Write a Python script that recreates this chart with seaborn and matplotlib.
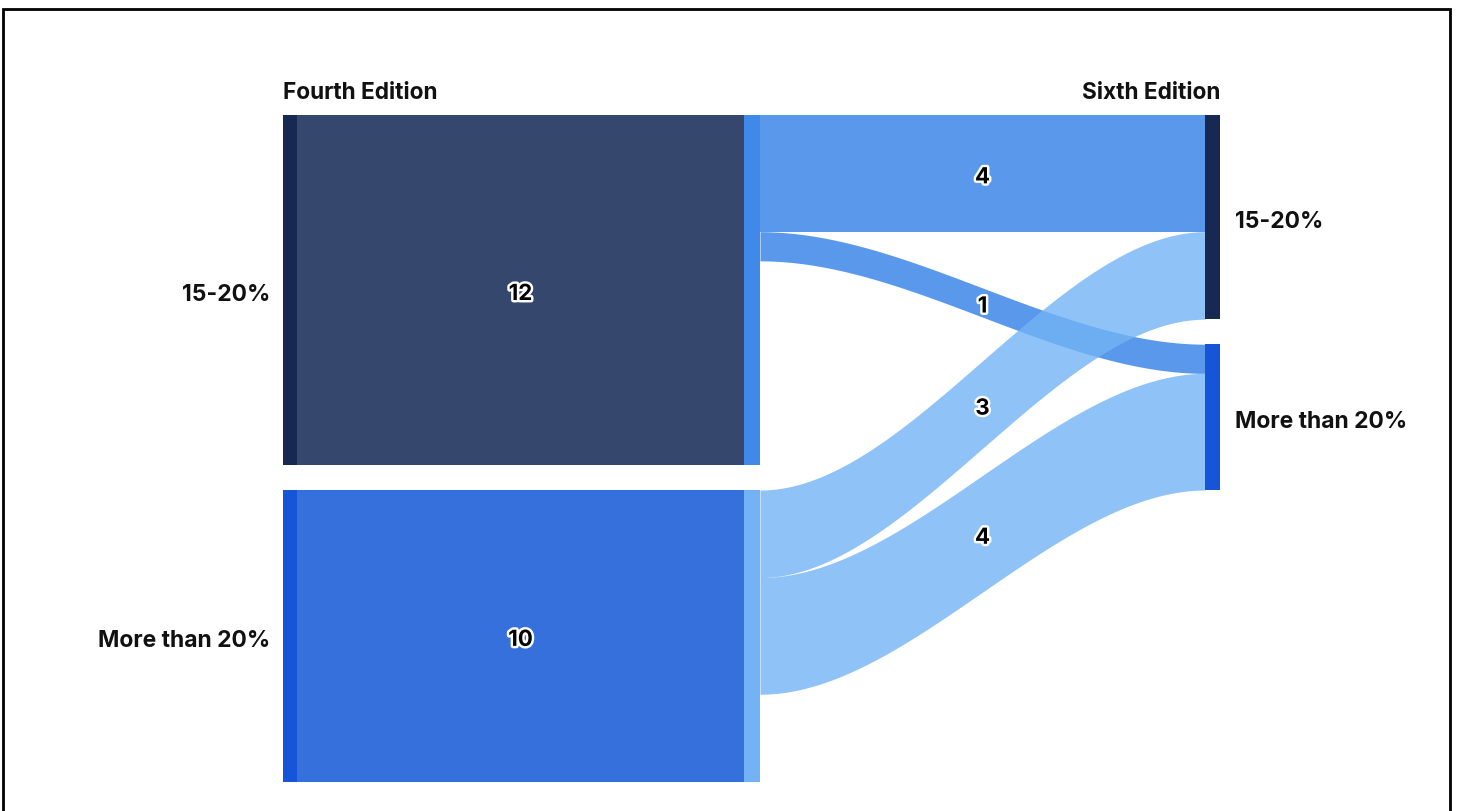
import numpy as np
import matplotlib
matplotlib.use("Agg")
import matplotlib.pyplot as plt
import matplotlib.patheffects as pe
from matplotlib.patches import Rectangle
import seaborn as sns

# ---- data ----
left_nodes = ["15-20%", "More than 20%"]
left_values = [12, 10]
right_nodes = ["15-20%", "More than 20%"]
flow_source = [0, 0, 1, 1]
flow_target = [0, 1, 0, 1]
flow_values = [4, 1, 3, 4]
left_title = "Fourth Edition"
right_title = "Sixth Edition"

# ---- style ----
sns.set_theme(style="white")
plt.rcParams['font.family'] = ['Inter', 'DejaVu Sans']

node_colors = ["#172852", "#1655d8"]
block_colors = ["#36476d", "#3670dd"]
mid_colors = ["#4189e8", "#73b3f5"]
flow_colors = ["#4189e8", "#73b3f5"]
flow_alpha = [0.87, 0.8]

W, H = 1457, 812
fig = plt.figure(figsize=(W / 100, H / 100), dpi=100)
ax = fig.add_axes([0, 0, 1, 1])
scale = 29.17      # px per unit
top_px = 116
gap = 25 / scale
ax.set_xlim(0, W)
ax.set_ylim((H - top_px) / scale, -top_px / scale)
ax.axis("off")

# column layout (x in px)
xl0, xl1 = 283, 297       # left node bar
xb1 = 744                 # big block end
xm1 = 760                 # mid column end
xr0, xr1 = 1205, 1220     # right node bar
dy = 4 / scale            # small vertical text nudge

# left node positions
left_y = []
y = 0.0
for v in left_values:
    left_y.append(y)
    y += v + gap

# right node totals
right_values = [sum(fv for fv, t in zip(flow_values, flow_target) if t == k) for k in range(len(right_nodes))]
right_y = []
y = 0.0
for v in right_values:
    right_y.append(y)
    y += v + gap

label_kw = dict(fontsize=16.5, fontweight="bold", color="#111111", zorder=6)
num_kw = dict(fontsize=16, fontweight="bold", color="black", zorder=6,
              path_effects=[pe.withStroke(linewidth=3.5, foreground="white")])

# left nodes, blocks, mid column
for i, (name, v) in enumerate(zip(left_nodes, left_values)):
    y0 = left_y[i]
    ax.bar(xl0, v, bottom=y0, width=xl1 - xl0, align="edge", color=node_colors[i], linewidth=0, zorder=3)
    ax.bar(xl1, v, bottom=y0, width=xb1 - xl1, align="edge", color=block_colors[i], linewidth=0, zorder=2)
    ax.bar(xb1, v, bottom=y0, width=xm1 - xb1, align="edge", color=mid_colors[i], linewidth=0, zorder=2)
    ax.text((xl1 + xb1) / 2, y0 + v / 2 + dy, str(v), ha="center", va="center", **num_kw)
    ax.text(xl0 - 13, y0 + v / 2 + dy, name, ha="right", va="center", **label_kw)

# right nodes
for k, (name, v) in enumerate(zip(right_nodes, right_values)):
    y0 = right_y[k]
    ax.bar(xr0, v, bottom=y0, width=xr1 - xr0, align="edge", color=node_colors[k], linewidth=0, zorder=3)
    ax.text(xr1 + 15, y0 + v / 2 + dy, name, ha="left", va="center", **label_kw)

# flows
src_off = list(left_y)
tgt_off = list(right_y)
t = np.linspace(0, 1, 201)
s = 3 * t ** 2 - 2 * t ** 3
xs = xm1 + (xr0 - xm1) * t
for src, tgt, v in zip(flow_source, flow_target, flow_values):
    a0 = src_off[src]
    b0 = tgt_off[tgt]
    src_off[src] += v
    tgt_off[tgt] += v
    top = a0 + (b0 - a0) * s
    bot = top + v
    ax.fill_between(xs, top, bot, color=flow_colors[src], alpha=flow_alpha[src],
                    linewidth=0, zorder=1)
    ax.text((xm1 + xr0) / 2, top[100] + v / 2 + dy, str(v), ha="center", va="center", **num_kw)

# column titles
title_y = (93 - top_px) / scale
ax.text(xl0, title_y, left_title, ha="left", va="center", fontsize=16.3,
        fontweight="bold", color="#111111")
ax.text(xr1, title_y, right_title, ha="right", va="center", fontsize=16.3,
        fontweight="bold", color="#111111")

# outer frame
fig.patches.append(Rectangle((3 / W, -0.05), (1450 - 3) / W, (H - 10) / H + 0.05,
                             transform=fig.transFigure, fill=False, edgecolor="black",
                             linewidth=2, zorder=10))

fig.savefig("out.png", dpi=100, facecolor="white")
